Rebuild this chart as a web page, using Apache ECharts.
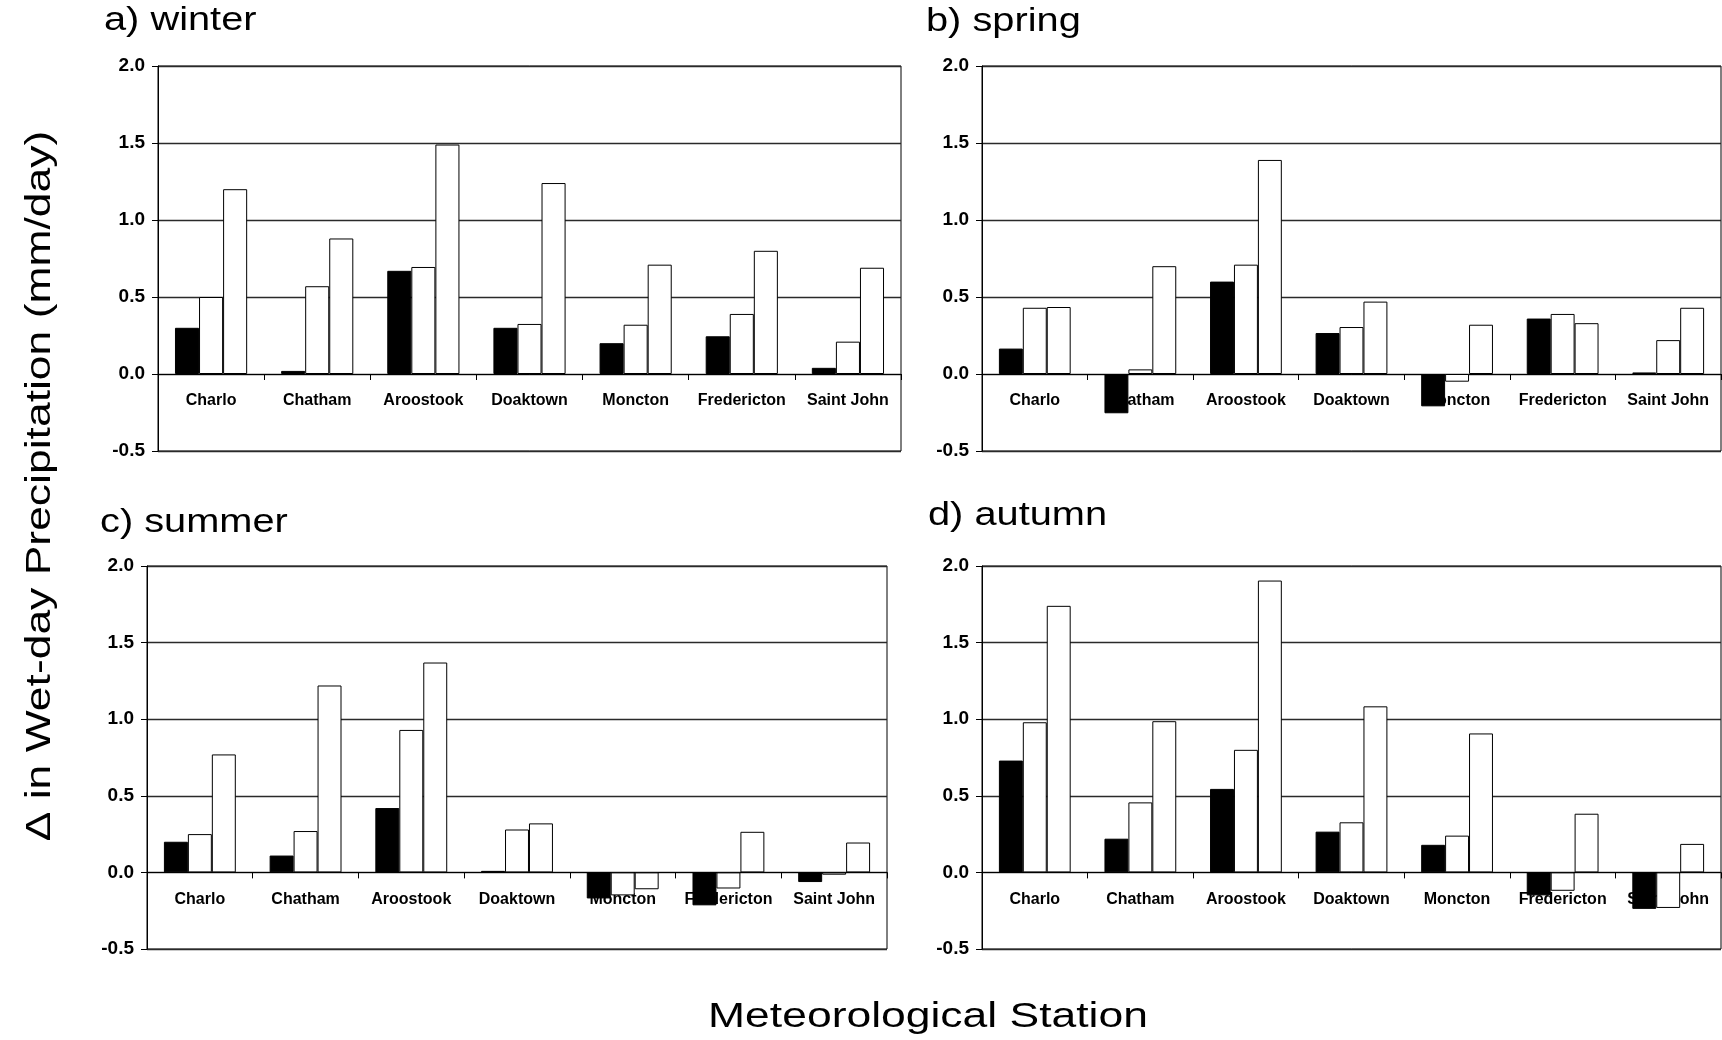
<!DOCTYPE html>
<html>
<head>
<meta charset="utf-8">
<script src="https://cdn.jsdelivr.net/npm/echarts@6/dist/echarts.min.js"></script>
<style>
html,body{margin:0;padding:0;background:#fff;}
#chart{width:1722px;height:1040px;}
</style>
</head>
<body>
<div id="chart"></div>
<script>
// ---- data ----
const stations = ['Charlo', 'Chatham', 'Aroostook', 'Doaktown', 'Moncton', 'Fredericton', 'Saint John'];
const yTickLabels = ['-0.5', '0.0', '0.5', '1.0', '1.5', '2.0'];
const panelTitles = ['a) winter', 'b) spring', 'c) summer', 'd) autumn'];
const yTitle = '\u0394 in Wet-day Precipitation (mm/day)';
const xTitle = 'Meteorological Station';

const winter_s1 = [0.30, 0.02, 0.67, 0.30, 0.20, 0.245, 0.04];
const winter_s2 = [0.50, 0.57, 0.695, 0.325, 0.32, 0.39, 0.21];
const winter_s3 = [1.20, 0.88, 1.49, 1.24, 0.71, 0.80, 0.69];

const spring_s1 = [0.165, -0.255, 0.60, 0.266, -0.21, 0.36, 0.01];
const spring_s2 = [0.43, 0.03, 0.71, 0.305, -0.05, 0.39, 0.22];
const spring_s3 = [0.435, 0.70, 1.39, 0.47, 0.32, 0.33, 0.43];

const summer_s1 = [0.20, 0.11, 0.42, 0.01, -0.17, -0.215, -0.063];
const summer_s2 = [0.25, 0.27, 0.93, 0.28, -0.15, -0.105, -0.015];
const summer_s3 = [0.77, 1.22, 1.37, 0.32, -0.11, 0.265, 0.195];

const autumn_s1 = [0.73, 0.22, 0.545, 0.266, 0.18, -0.15, -0.238];
const autumn_s2 = [0.98, 0.457, 0.80, 0.327, 0.24, -0.12, -0.232];
const autumn_s3 = [1.74, 0.987, 1.905, 1.084, 0.907, 0.383, 0.186];

const seasonData = [
  [winter_s1, winter_s2, winter_s3],
  [spring_s1, spring_s2, spring_s3],
  [summer_s1, summer_s2, summer_s3],
  [autumn_s1, autumn_s2, autumn_s3]
];
const seriesNames = ['Series 1', 'Series 2', 'Series 3'];
const seriesFill = ['#000000', '#ffffff', '#ffffff'];

// ---- layout ----
const FONT = "'Liberation Sans', Arial, Helvetica, sans-serif";
const Y_MIN = -0.5, Y_MAX = 2.0, Y_STEP = 0.5;
const grids = [
  {left: 158, top: 66, width: 743, height: 385},
  {left: 982, top: 66, width: 739, height: 385},
  {left: 147, top: 566, width: 740, height: 383},
  {left: 982, top: 566, width: 739, height: 383}
];
const titlePos = [
  {x: 104, y: 21},
  {x: 926, y: 22},
  {x: 100, y: 523},
  {x: 928, y: 516}
];

const option = {
  animation: false,
  backgroundColor: '#ffffff',
  grid: [],
  xAxis: [],
  yAxis: [],
  series: [],
  graphic: []
};

// main grids
grids.forEach(function (g, i) {
  option.grid.push({
    left: g.left, top: g.top, width: g.width, height: g.height,
    show: true, borderColor: '#000', borderWidth: 1, backgroundColor: 'transparent'
  });
  option.xAxis.push({
    type: 'category',
    gridIndex: i,
    data: stations,
    boundaryGap: true,
    axisLine: {show: true, onZero: true, lineStyle: {color: '#000', width: 1}},
    axisTick: {show: true, alignWithLabel: false, length: 6, inside: false, lineStyle: {color: '#000', width: 1}},
    axisLabel: {show: false},
    splitLine: {show: false}
  });
  option.yAxis.push({
    type: 'value',
    gridIndex: i,
    min: Y_MIN, max: Y_MAX, interval: Y_STEP,
    axisLine: {show: true, lineStyle: {color: '#000', width: 1}},
    axisTick: {show: true, length: 6, lineStyle: {color: '#000', width: 1}},
    axisLabel: {
      margin: 13, color: '#000', fontSize: 19, fontWeight: 'bold', fontFamily: FONT,
      formatter: function (v) {
        return yTickLabels[Math.round((v - Y_MIN) / Y_STEP)];
      }
    },
    splitLine: {show: true, lineStyle: {color: '#2a2a2a', width: 1.4}}
  });
  seasonData[i].forEach(function (arr, k) {
    option.series.push({
      type: 'bar',
      name: seriesNames[k],
      xAxisIndex: i,
      yAxisIndex: i,
      data: arr,
      barGap: '0%',
      barCategoryGap: '32%',
      itemStyle: {color: seriesFill[k], borderColor: '#000', borderWidth: 1},
      emphasis: {disabled: true}
    });
  });
  option.graphic.push({
    type: 'text',
    x: titlePos[i].x,
    y: titlePos[i].y,
    scaleX: 1.17,
    style: {
      text: panelTitles[i], x: 0, y: 0,
      font: '34px ' + FONT, fill: '#000',
      textAlign: 'left', textVerticalAlign: 'middle', align: 'left', verticalAlign: 'middle'
    }
  });
});

// overlay grids whose bottom edge sits on the zero line: they carry the station labels
grids.forEach(function (g, i) {
  const zeroFrac = (Y_MAX - 0) / (Y_MAX - Y_MIN);
  option.grid.push({
    left: g.left, top: g.top, width: g.width, height: g.height * zeroFrac,
    show: false
  });
  option.xAxis.push({
    type: 'category',
    gridIndex: 4 + i,
    data: stations,
    boundaryGap: true,
    axisLine: {show: false},
    axisTick: {show: false},
    axisLabel: {
      interval: 0, margin: 19, color: '#000', fontSize: 16, fontWeight: 'bold', fontFamily: FONT
    },
    splitLine: {show: false}
  });
  option.yAxis.push({
    type: 'value',
    gridIndex: 4 + i,
    min: 0, max: Y_MAX,
    show: false
  });
});

option.graphic.push({
  type: 'text',
  x: 928, y: 1017,
  scaleX: 1.27,
  style: {
    text: xTitle, x: 0, y: 0,
    font: '35px ' + FONT, fill: '#000',
    textAlign: 'center', textVerticalAlign: 'middle', align: 'center', verticalAlign: 'middle'
  }
});
option.graphic.push({
  type: 'text',
  x: 40, y: 486,
  rotation: Math.PI / 2,
  scaleX: 1.27,
  style: {
    text: yTitle, x: 0, y: 0,
    font: '35px ' + FONT, fill: '#000',
    textAlign: 'center', textVerticalAlign: 'middle', align: 'center', verticalAlign: 'middle'
  }
});

const chart = echarts.init(document.getElementById('chart'));
chart.setOption(option);
</script>
</body>
</html>
